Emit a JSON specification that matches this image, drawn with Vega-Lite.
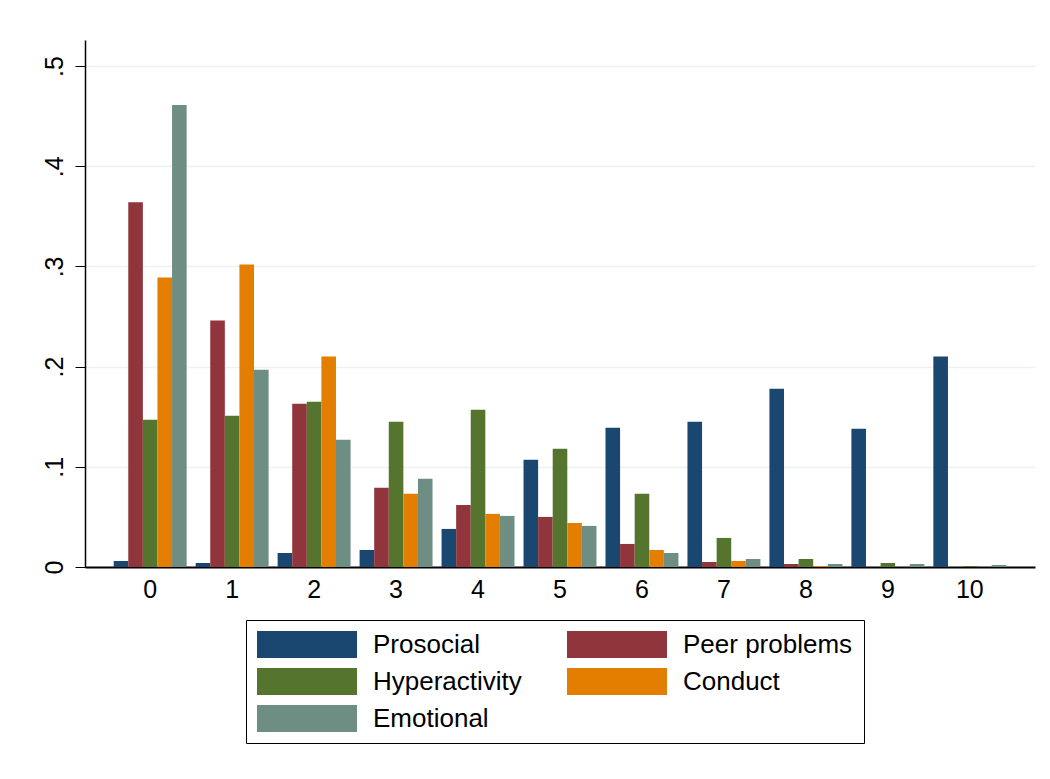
{
  "$schema": "https://vega.github.io/schema/vega-lite/v6.json",
  "width": 950,
  "height": 527,
  "autosize": {"type": "none"},
  "padding": {"left": 85, "top": 40, "right": 15, "bottom": 212},
  "background": "white",
  "config": {
    "view": {"stroke": null},
    "font": "Liberation Sans"
  },
  "data": {
    "values": [
      {"score": 0, "series": "Prosocial", "value": 0.006},
      {"score": 0, "series": "Peer problems", "value": 0.364},
      {"score": 0, "series": "Hyperactivity", "value": 0.147},
      {"score": 0, "series": "Conduct", "value": 0.289},
      {"score": 0, "series": "Emotional", "value": 0.461},
      {"score": 1, "series": "Prosocial", "value": 0.004},
      {"score": 1, "series": "Peer problems", "value": 0.246},
      {"score": 1, "series": "Hyperactivity", "value": 0.151},
      {"score": 1, "series": "Conduct", "value": 0.302},
      {"score": 1, "series": "Emotional", "value": 0.197},
      {"score": 2, "series": "Prosocial", "value": 0.014},
      {"score": 2, "series": "Peer problems", "value": 0.163},
      {"score": 2, "series": "Hyperactivity", "value": 0.165},
      {"score": 2, "series": "Conduct", "value": 0.21},
      {"score": 2, "series": "Emotional", "value": 0.127},
      {"score": 3, "series": "Prosocial", "value": 0.017},
      {"score": 3, "series": "Peer problems", "value": 0.079},
      {"score": 3, "series": "Hyperactivity", "value": 0.145},
      {"score": 3, "series": "Conduct", "value": 0.073},
      {"score": 3, "series": "Emotional", "value": 0.088},
      {"score": 4, "series": "Prosocial", "value": 0.038},
      {"score": 4, "series": "Peer problems", "value": 0.062},
      {"score": 4, "series": "Hyperactivity", "value": 0.157},
      {"score": 4, "series": "Conduct", "value": 0.053},
      {"score": 4, "series": "Emotional", "value": 0.051},
      {"score": 5, "series": "Prosocial", "value": 0.107},
      {"score": 5, "series": "Peer problems", "value": 0.05},
      {"score": 5, "series": "Hyperactivity", "value": 0.118},
      {"score": 5, "series": "Conduct", "value": 0.044},
      {"score": 5, "series": "Emotional", "value": 0.041},
      {"score": 6, "series": "Prosocial", "value": 0.139},
      {"score": 6, "series": "Peer problems", "value": 0.023},
      {"score": 6, "series": "Hyperactivity", "value": 0.073},
      {"score": 6, "series": "Conduct", "value": 0.017},
      {"score": 6, "series": "Emotional", "value": 0.014},
      {"score": 7, "series": "Prosocial", "value": 0.145},
      {"score": 7, "series": "Peer problems", "value": 0.005},
      {"score": 7, "series": "Hyperactivity", "value": 0.029},
      {"score": 7, "series": "Conduct", "value": 0.006},
      {"score": 7, "series": "Emotional", "value": 0.008},
      {"score": 8, "series": "Prosocial", "value": 0.178},
      {"score": 8, "series": "Peer problems", "value": 0.003},
      {"score": 8, "series": "Hyperactivity", "value": 0.008},
      {"score": 8, "series": "Conduct", "value": 0.001},
      {"score": 8, "series": "Emotional", "value": 0.003},
      {"score": 9, "series": "Prosocial", "value": 0.138},
      {"score": 9, "series": "Peer problems", "value": 0.0},
      {"score": 9, "series": "Hyperactivity", "value": 0.004},
      {"score": 9, "series": "Conduct", "value": 0.0},
      {"score": 9, "series": "Emotional", "value": 0.003},
      {"score": 10, "series": "Prosocial", "value": 0.21},
      {"score": 10, "series": "Peer problems", "value": 0.0},
      {"score": 10, "series": "Hyperactivity", "value": 0.001},
      {"score": 10, "series": "Conduct", "value": 0.0},
      {"score": 10, "series": "Emotional", "value": 0.002}
    ]
  },
  "mark": {"type": "bar"},
  "encoding": {
    "x": {
      "field": "score",
      "type": "ordinal",
      "scale": {"domain": [0,1,2,3,4,5,6,7,8,9,10], "paddingInner": 0.11, "paddingOuter": 0.35},
      "axis": {
        "title": null,
        "labelAngle": 0,
        "labelFontSize": 25,
        "labelColor": "black",
        "labelPadding": 10,
        "ticks": false,
        "domainColor": "black",
        "domainWidth": 2,
        "grid": false
      }
    },
    "xOffset": {
      "field": "series",
      "type": "nominal",
      "scale": {"domain": ["Prosocial", "Peer problems", "Hyperactivity", "Conduct", "Emotional"], "paddingInner": 0, "paddingOuter": 0}
    },
    "y": {
      "field": "value",
      "type": "quantitative",
      "scale": {"domain": [0, 0.526], "nice": false, "zero": true},
      "axis": {
        "title": null,
        "values": [0, 0.1, 0.2, 0.3, 0.4, 0.5],
        "labelExpr": "datum.value == 0 ? '0' : replace(format(datum.value, '.1f'), '0.', '.')",
        "labelAngle": 270,
        "labelAlign": "center",
        "labelBaseline": "bottom",
        "labelFontSize": 25,
        "labelColor": "black",
        "labelPadding": 8,
        "tickSize": 10,
        "tickColor": "black",
        "domainColor": "black",
        "domainWidth": 1.5,
        "grid": true,
        "gridColor": "#eaf2f3",
        "gridWidth": 1.5
      }
    },
    "color": {
      "field": "series",
      "type": "nominal",
      "scale": {
        "domain": ["Prosocial", "Peer problems", "Hyperactivity", "Conduct", "Emotional"],
        "range": ["#1a476f", "#90353b", "#55752f", "#e37e00", "#6e8e84"]
      },
      "legend": {
        "title": null,
        "orient": "none",
        "legendX": 161,
        "legendY": 580,
        "direction": "horizontal",
        "columns": 2,
        "symbolType": "M-1,-1H6.407V1H-1Z",
        "symbolSize": 729,
        "symbolStrokeWidth": 0,
        "symbolOpacity": 1,
        "labelFontSize": 26,
        "labelColor": "black",
        "labelOffset": 89,
        "labelLimit": 400,
        "rowPadding": 10,
        "columnPadding": 45,
        "padding": 11,
        "strokeColor": "black",
        "fillColor": "white"
      }
    }
  }
}
